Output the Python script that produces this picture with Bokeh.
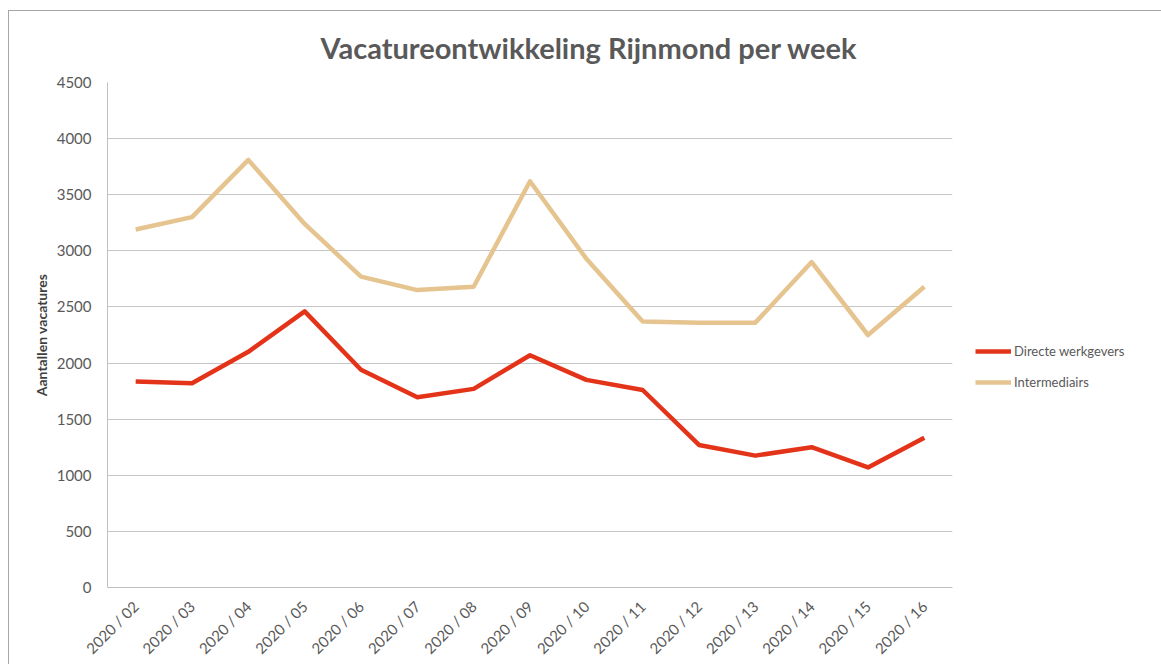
from math import pi
from bokeh.plotting import figure
from bokeh.models import Legend, LegendItem, SingleIntervalTicker, FactorRange, Title
from bokeh.embed import file_html
from bokeh.resources import INLINE

weeks = ["2020 / 02", "2020 / 03", "2020 / 04", "2020 / 05", "2020 / 06", "2020 / 07", "2020 / 08",
         "2020 / 09", "2020 / 10", "2020 / 11", "2020 / 12", "2020 / 13", "2020 / 14", "2020 / 15", "2020 / 16"]
directe_werkgevers = [1835, 1820, 2100, 2460, 1940, 1695, 1770, 2070, 1850, 1760, 1270, 1175, 1250, 1070, 1335]
intermediairs = [3190, 3300, 3810, 3240, 2770, 2650, 2680, 3620, 2930, 2370, 2360, 2360, 2900, 2250, 2680]

FONT = "Lato"
GREY = "#595959"

p = figure(x_range=FactorRange(*weeks), y_range=(0, 4500),
           frame_width=845, frame_height=505,
           min_border_left=98, min_border_right=209, min_border_top=71, min_border_bottom=77,
           output_backend="svg", toolbar_location=None, background_fill_color="white",
           border_fill_color="white")
p.styles = {"border-top": "1px solid #a6a6a6", "border-left": "1px solid #a6a6a6",
            "margin-top": "10px", "margin-left": "8px"}

p.title = Title(text="Vacatureontwikkeling Rijnmond per week", align="left",
                text_font=FONT, text_font_size="29px", text_font_style="bold",
                text_color=GREY, standoff=33, offset=213, vertical_align="middle")

r1 = p.line(weeks, directe_werkgevers, line_color="#e3341a", line_width=4.5, line_join="round")
r2 = p.line(weeks, intermediairs, line_color="#e5c48f", line_width=4.5, line_join="round")

p.outline_line_color = None
p.xgrid.grid_line_color = None
p.ygrid.grid_line_color = "#c6c6c6"
p.ygrid.grid_line_width = 1

p.yaxis.ticker = SingleIntervalTicker(interval=500)
p.yaxis.axis_label = "Aantallen vacatures"
p.yaxis.axis_label_text_font = FONT
p.yaxis.axis_label_text_font_size = "14px"
p.yaxis.axis_label_text_font_style = "bold"
p.yaxis.axis_label_text_color = "#404040"
p.yaxis.axis_label_standoff = 4
p.yaxis.major_label_text_font = FONT
p.yaxis.major_label_text_font_size = "15px"
p.yaxis.major_label_text_color = GREY
p.yaxis.major_label_standoff = 10
p.yaxis.major_tick_line_color = None
p.yaxis.minor_tick_line_color = None
p.yaxis.axis_line_color = "#bfbfbf"

p.xaxis.major_label_orientation = pi / 4
p.xaxis.major_label_text_font = FONT
p.xaxis.major_label_text_font_size = "15px"
p.xaxis.major_label_text_color = GREY
p.xaxis.major_label_standoff = 10
p.xaxis.major_tick_line_color = None
p.xaxis.axis_line_color = "#bfbfbf"

legend = Legend(items=[LegendItem(label="Directe werkgevers", renderers=[r1]),
                       LegendItem(label="Intermediairs", renderers=[r2])],
                location=(23, 195), glyph_width=36, label_standoff=3, spacing=11,
                label_text_font=FONT, label_text_font_size="13px", label_text_color=GREY,
                border_line_color=None, background_fill_alpha=0, padding=0, margin=0)
p.add_layout(legend, "right")

open("out.html", "w").write(file_html(p, INLINE))
